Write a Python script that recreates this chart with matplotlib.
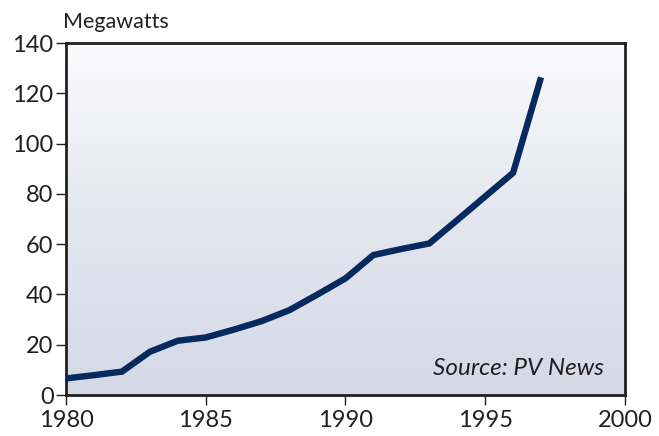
import numpy as np
import matplotlib
matplotlib.use("Agg")
import matplotlib.pyplot as plt
from matplotlib.colors import LinearSegmentedColormap

years = [1980, 1981, 1982, 1983, 1984, 1985, 1986, 1987, 1988, 1989,
         1990, 1991, 1992, 1993, 1994, 1995, 1996, 1997]
megawatts = [6.6, 7.9, 9.3, 17.2, 21.6, 22.9, 26.0, 29.4, 33.8, 40.0,
             46.4, 55.7, 58.1, 60.3, 69.6, 79.0, 88.4, 126.4]
x_ticks = [1980, 1985, 1990, 1995, 2000]
y_ticks = [0, 20, 40, 60, 80, 100, 120, 140]

plt.rcParams['font.family'] = ['Lato', 'DejaVu Sans']

fig = plt.figure(figsize=(6.59, 4.36), dpi=100)
ax = fig.add_axes([0.1002, 0.094, 0.848, 0.807])

cmap = LinearSegmentedColormap.from_list('bg', ['#d4d9e6', '#e4e6ef', '#fbfbfd'])
grad = np.linspace(0, 1, 256).reshape(-1, 1)
ax.imshow(grad, cmap=cmap, origin='lower', aspect='auto',
          extent=[1980, 2000, 0, 140], zorder=0)

ax.plot(years, megawatts, color='#06295e', lw=4.6, solid_joinstyle='miter',
        solid_capstyle='butt', zorder=3)

ax.set_xlim(1980, 2000)
ax.set_ylim(0, 140)
ax.set_xticks(x_ticks)
ax.set_yticks(y_ticks)
ax.tick_params(axis='both', direction='out', length=7, width=1.0,
               color='#231f20', labelsize=17, labelcolor='#231f20')
ax.tick_params(axis='x', pad=4)
ax.tick_params(axis='y', pad=2)
for s in ax.spines.values():
    s.set_linewidth(2.0)
    s.set_color('#231f20')

fig.text(63/659, 1 - 22/436, 'Megawatts', fontsize=15.5, color='#231f20',
         ha='left', va='center')
ax.text(0.963, 0.075, 'Source: PV News', transform=ax.transAxes,
        fontsize=17.5, style='italic', color='#231f20', ha='right', va='center')

fig.savefig('out.png', dpi=100)
